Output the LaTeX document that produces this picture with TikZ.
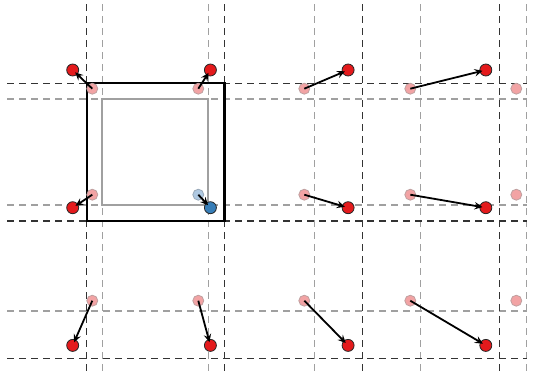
\documentclass[tikz,border=0pt]{standalone}
\usetikzlibrary{arrows.meta}
\definecolor{ptred}{HTML}{E41A1C}
\definecolor{ptpink}{HTML}{F2A3A4}
\definecolor{ptpinkline}{HTML}{BFA0A0}
\definecolor{ptblue}{HTML}{377EB8}
\definecolor{ptlblue}{HTML}{AFC9E2}
\definecolor{ptlblueline}{HTML}{98A8B8}
\definecolor{gridgrey}{HTML}{A0A0A0}
\tikzset{
  darkgrid/.style={draw=black!80, line width=1.1pt, dash pattern=on 7pt off 5pt},
  lightgrid/.style={draw=gridgrey, line width=1.1pt, dash pattern=on 7pt off 5pt},
  redpt/.style={circle, fill=ptred, draw=black!85, line width=0.8pt, minimum size=12pt, inner sep=0pt},
  bluept/.style={circle, fill=ptblue, draw=black!85, line width=0.8pt, minimum size=12pt, inner sep=0pt},
  pinkpt/.style={circle, fill=ptpink, draw=ptpinkline, line width=0.8pt, minimum size=11pt, inner sep=0pt},
  lbluept/.style={circle, fill=ptlblue, draw=ptlblueline, line width=0.8pt, minimum size=11pt, inner sep=0pt},
  movearrow/.style={line width=1.8pt, -{Stealth[length=8pt,width=7.5pt,inset=3pt]}, shorten >=-3pt},
}
\begin{document}
\begin{tikzpicture}[x=1pt,y=-1pt]
\useasboundingbox (0,0) rectangle (533,375);
% light grid
\foreach \k in {0,...,4}{
  \draw[lightgrid] ({102.3+106*\k},4) -- ({102.3+106*\k},375);
}
\foreach \k in {0,...,2}{
  \draw[lightgrid] (7,{99+106*\k}) -- (527,{99+106*\k});
}
% dark grid
\foreach \k in {0,...,3}{
  \draw[darkgrid] ({86.7+137.7*\k},4) -- ({86.7+137.7*\k},375);
}
\foreach \k in {0,...,2}{
  \draw[darkgrid] (7,{83.3+137.7*\k}) -- (527,{83.3+137.7*\k});
}
% squares
\draw[black, line width=2.2pt] (86.7,83.3) rectangle (224.4,221);
\draw[gridgrey, line width=2.2pt] (102.3,99) rectangle (208.3,205);
% original points
\foreach \i in {0,...,4}{
  \foreach \j in {0,...,2}{
    \ifnum\i=1 \ifnum\j=1
      \node[lbluept] (p\i\j) at ({92.3+106*\i},{88.7+106*\j}) {};
    \else
      \node[pinkpt] (p\i\j) at ({92.3+106*\i},{88.7+106*\j}) {};
    \fi\else
      \node[pinkpt] (p\i\j) at ({92.3+106*\i},{88.7+106*\j}) {};
    \fi
  }
}
% displaced points
\foreach \i in {0,...,3}{
  \foreach \j in {0,...,2}{
    \ifnum\i=1 \ifnum\j=1
      \node[bluept] (r\i\j) at ({72.7+137.7*\i},{70+137.7*\j}) {};
    \else
      \node[redpt] (r\i\j) at ({72.7+137.7*\i},{70+137.7*\j}) {};
    \fi\else
      \node[redpt] (r\i\j) at ({72.7+137.7*\i},{70+137.7*\j}) {};
    \fi
  }
}
% arrows
\foreach \i in {0,...,3}{
  \foreach \j in {0,...,2}{
    \draw[movearrow] (p\i\j.center) -- (r\i\j);
  }
}
\end{tikzpicture}
\end{document}
